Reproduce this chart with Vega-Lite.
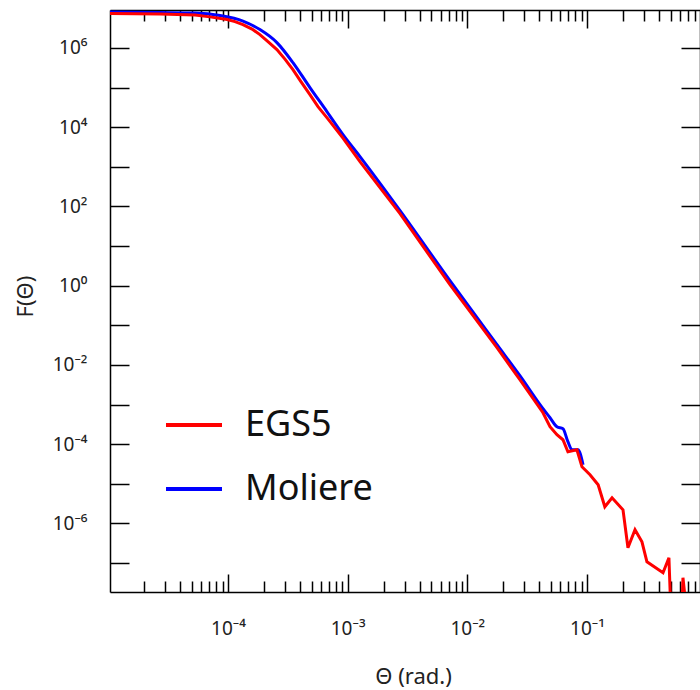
{
  "$schema": "https://vega.github.io/schema/vega-lite/v6.json",
  "width": 590,
  "height": 582,
  "autosize": "none",
  "padding": {"left": 110, "top": 10, "right": 0, "bottom": 98},
  "background": "white",
  "config": {
    "view": {"stroke": null},
    "font": "Noto Sans",
    "axis": {
      "domainColor": "black", "domainWidth": 1.5,
      "tickColor": "black", "tickWidth": 1.5,
      "grid": false,
      "labelFont": "Noto Sans", "labelFontSize": 19, "labelColor": "#222",
      "titleFont": "Noto Sans", "titleFontSize": 22, "titleFontWeight": "normal", "titleColor": "#222",
      "labelOverlap": false, "labelFlush": false, "labelBound": false
    }
  },
  "data": {"values": [
    {"series": "Moliere", "theta": 1.033e-5, "F": 8.07e6},
    {"series": "Moliere", "theta": 2.70e-5, "F": 7.83e6},
    {"series": "Moliere", "theta": 5.30e-5, "F": 7.60e6},
    {"series": "Moliere", "theta": 8.57e-5, "F": 6.58e6},
    {"series": "Moliere", "theta": 1.334e-4, "F": 4.78e6},
    {"series": "Moliere", "theta": 1.849e-4, "F": 2.92e6},
    {"series": "Moliere", "theta": 2.564e-4, "F": 1.37e6},
    {"series": "Moliere", "theta": 3.49e-4, "F": 4.28e5},
    {"series": "Moliere", "theta": 4.84e-4, "F": 1.0e5},
    {"series": "Moliere", "theta": 6.71e-4, "F": 2.48e4},
    {"series": "Moliere", "theta": 9.14e-4, "F": 6500},
    {"series": "Moliere", "theta": 1.268e-3, "F": 1810},
    {"series": "Moliere", "theta": 2.74e-3, "F": 78.3},
    {"series": "Moliere", "theta": 7.16e-3, "F": 1.34},
    {"series": "Moliere", "theta": 1.77e-2, "F": 0.0324},
    {"series": "Moliere", "theta": 2.75e-2, "F": 5.34e-3},
    {"series": "Moliere", "theta": 4.29e-2, "F": 7.83e-4},
    {"series": "Moliere", "theta": 4.91e-2, "F": 4.64e-4},
    {"series": "Moliere", "theta": 5.61e-2, "F": 2.75e-4},
    {"series": "Moliere", "theta": 6.30e-2, "F": 2.45e-4},
    {"series": "Moliere", "theta": 6.93e-2, "F": 1.15e-4},
    {"series": "Moliere", "theta": 7.50e-2, "F": 7.23e-5},
    {"series": "Moliere", "theta": 8.41e-2, "F": 7.23e-5},
    {"series": "Moliere", "theta": 9.27e-2, "F": 3.02e-5},
    {"series": "EGS5", "theta": 1.033e-5, "F": 7.40e6},
    {"series": "EGS5", "theta": 2.70e-5, "F": 7.18e6},
    {"series": "EGS5", "theta": 5.30e-5, "F": 6.78e6},
    {"series": "EGS5", "theta": 7.08e-5, "F": 6.10e6},
    {"series": "EGS5", "theta": 9.82e-5, "F": 5.21e6},
    {"series": "EGS5", "theta": 1.144e-4, "F": 4.64e6},
    {"series": "EGS5", "theta": 1.334e-4, "F": 3.90e6},
    {"series": "EGS5", "theta": 1.589e-4, "F": 3.00e6},
    {"series": "EGS5", "theta": 1.849e-4, "F": 2.18e6},
    {"series": "EGS5", "theta": 2.158e-4, "F": 1.45e6},
    {"series": "EGS5", "theta": 2.564e-4, "F": 9.12e5},
    {"series": "EGS5", "theta": 2.992e-4, "F": 5.25e5},
    {"series": "EGS5", "theta": 3.49e-4, "F": 2.85e5},
    {"series": "EGS5", "theta": 4.07e-4, "F": 1.42e5},
    {"series": "EGS5", "theta": 4.84e-4, "F": 6.65e4},
    {"series": "EGS5", "theta": 5.65e-4, "F": 3.31e4},
    {"series": "EGS5", "theta": 6.71e-4, "F": 1.75e4},
    {"series": "EGS5", "theta": 9.14e-4, "F": 5300},
    {"series": "EGS5", "theta": 1.268e-3, "F": 1350},
    {"series": "EGS5", "theta": 2.74e-3, "F": 65.8},
    {"series": "EGS5", "theta": 7.16e-3, "F": 1.06},
    {"series": "EGS5", "theta": 1.77e-2, "F": 0.0272},
    {"series": "EGS5", "theta": 2.75e-2, "F": 4.23e-3},
    {"series": "EGS5", "theta": 4.29e-2, "F": 6.21e-4},
    {"series": "EGS5", "theta": 4.91e-2, "F": 2.75e-4},
    {"series": "EGS5", "theta": 5.61e-2, "F": 1.73e-4},
    {"series": "EGS5", "theta": 6.30e-2, "F": 1.29e-4},
    {"series": "EGS5", "theta": 6.93e-2, "F": 6.43e-5},
    {"series": "EGS5", "theta": 8.24e-2, "F": 7.23e-5},
    {"series": "EGS5", "theta": 9.08e-2, "F": 2.69e-5},
    {"series": "EGS5", "theta": 0.106, "F": 1.69e-5},
    {"series": "EGS5", "theta": 0.124, "F": 9.44e-6},
    {"series": "EGS5", "theta": 0.141, "F": 2.62e-6},
    {"series": "EGS5", "theta": 0.162, "F": 4.43e-6},
    {"series": "EGS5", "theta": 0.200, "F": 2.20e-6},
    {"series": "EGS5", "theta": 0.220, "F": 2.42e-7},
    {"series": "EGS5", "theta": 0.252, "F": 6.89e-7},
    {"series": "EGS5", "theta": 0.288, "F": 3.43e-7},
    {"series": "EGS5", "theta": 0.317, "F": 1.07e-7},
    {"series": "EGS5", "theta": 0.432, "F": 5.66e-8},
    {"series": "EGS5", "theta": 0.484, "F": 1.35e-7},
    {"series": "EGS5", "theta": 0.513, "F": 1e-9},
    {"series": "EGS5", "theta": 0.610, "F": 1e-9},
    {"series": "EGS5", "theta": 0.634, "F": 4.23e-8},
    {"series": "EGS5", "theta": 0.724, "F": 1e-9},
    {"series": "EGS5", "theta": 0.95, "F": 1e-9}
  ]},
  "layer": [
    {
      "transform": [{"filter": "datum.series == 'Moliere'"}],
      "mark": {"type": "line", "strokeWidth": 3, "clip": true, "interpolate": "monotone"},
      "encoding": {
        "x": {
          "field": "theta", "type": "quantitative",
          "scale": {"type": "log", "domain": [1.033e-5, 0.88], "nice": false},
          "axis": {
            "orient": "bottom",
            "values": [0.00002,0.00003,0.00004,0.00005,0.00006,0.00007,0.00008,0.00009,0.0001,0.0002,0.0003,0.0004,0.0005,0.0006,0.0007,0.0008,0.0009,0.001,0.002,0.003,0.004,0.005,0.006,0.007,0.008,0.009,0.01,0.02,0.03,0.04,0.05,0.06,0.07,0.08,0.09,0.1,0.2,0.3,0.4,0.5,0.6,0.7,0.8],
            "tickSize": {"condition": {"test": "abs(log(datum.value)/LN10 - round(log(datum.value)/LN10)) < 0.01", "value": -18}, "value": -11},
            "labelExpr": "abs(log(datum.value)/LN10 - round(log(datum.value)/LN10)) < 0.01 ? '10' + ['⁻⁴','⁻³','⁻²','⁻¹'][round(log(datum.value)/LN10)+4] : ''",
            "labelPadding": 54,
            "labelBaseline": "middle",
            "title": "Θ (rad.)",
            "titleX": 303, "titleY": 84,
            "titleBaseline": "middle", "titleAlign": "center", "titleAnchor": null
          }
        },
        "y": {
          "field": "F", "type": "quantitative",
          "scale": {"type": "log", "domain": [1.85e-8, 9.1e6], "nice": false},
          "axis": {
            "orient": "left",
            "values": [1e-7,1e-6,1e-5,1e-4,1e-3,1e-2,1e-1,1,10,100,1000,10000,100000,1000000],
            "tickSize": -19,
            "labelExpr": "['','10⁻⁶','','10⁻⁴','','10⁻²','','10⁰','','10²','','10⁴','','10⁶'][round(log(datum.value)/LN10)+7]",
            "labelPadding": 42,
            "labelBaseline": "middle",
            "title": "F(Θ)",
            "titleX": -85, "titleY": 286, "titleAngle": 270,
            "titleBaseline": "middle", "titleAlign": "center", "titleAnchor": null
          }
        },
        "color": {
          "field": "series", "type": "nominal",
          "scale": {"domain": ["EGS5", "Moliere"], "range": ["#ff0000", "#0000ff"]},
          "legend": {"title": null, "orient": "none", "legendX": 54, "legendY": 385, "symbolType": "stroke", "symbolSize": 3136, "symbolStrokeWidth": 4, "labelFontSize": 36, "labelFont": "Noto Sans", "labelColor": "#111", "labelOffset": 21, "rowPadding": 16, "padding": 0}
        }
      }
    },
    {
      "transform": [{"filter": "datum.series == 'EGS5'"}],
      "mark": {"type": "line", "strokeWidth": 3, "clip": true},
      "encoding": {
        "x": {
          "field": "theta", "type": "quantitative",
          "scale": {"type": "log", "domain": [1.033e-5, 0.88], "nice": false},
          "axis": {
            "orient": "top",
            "values": [0.00002,0.00003,0.00004,0.00005,0.00006,0.00007,0.00008,0.00009,0.0001,0.0002,0.0003,0.0004,0.0005,0.0006,0.0007,0.0008,0.0009,0.001,0.002,0.003,0.004,0.005,0.006,0.007,0.008,0.009,0.01,0.02,0.03,0.04,0.05,0.06,0.07,0.08,0.09,0.1,0.2,0.3,0.4,0.5,0.6,0.7,0.8],
            "tickSize": {"condition": {"test": "abs(log(datum.value)/LN10 - round(log(datum.value)/LN10)) < 0.01", "value": -18}, "value": -11},
            "labels": false,
            "title": null
          }
        },
        "y": {
          "field": "F", "type": "quantitative",
          "scale": {"type": "log", "domain": [1.85e-8, 9.1e6], "nice": false},
          "axis": {
            "orient": "right",
            "values": [1e-7,1e-6,1e-5,1e-4,1e-3,1e-2,1e-1,1,10,100,1000,10000,100000,1000000],
            "tickSize": -19,
            "labels": false,
            "title": null
          }
        },
        "color": {
          "field": "series", "type": "nominal",
          "scale": {"domain": ["EGS5", "Moliere"], "range": ["#ff0000", "#0000ff"]},
          "legend": {"title": null, "orient": "none", "legendX": 54, "legendY": 385, "symbolType": "stroke", "symbolSize": 3136, "symbolStrokeWidth": 4, "labelFontSize": 36, "labelFont": "Noto Sans", "labelColor": "#111", "labelOffset": 21, "rowPadding": 16, "padding": 0}
        }
      }
    }
  ],
  "resolve": {"scale": {"x": "independent", "y": "independent"}}
}
